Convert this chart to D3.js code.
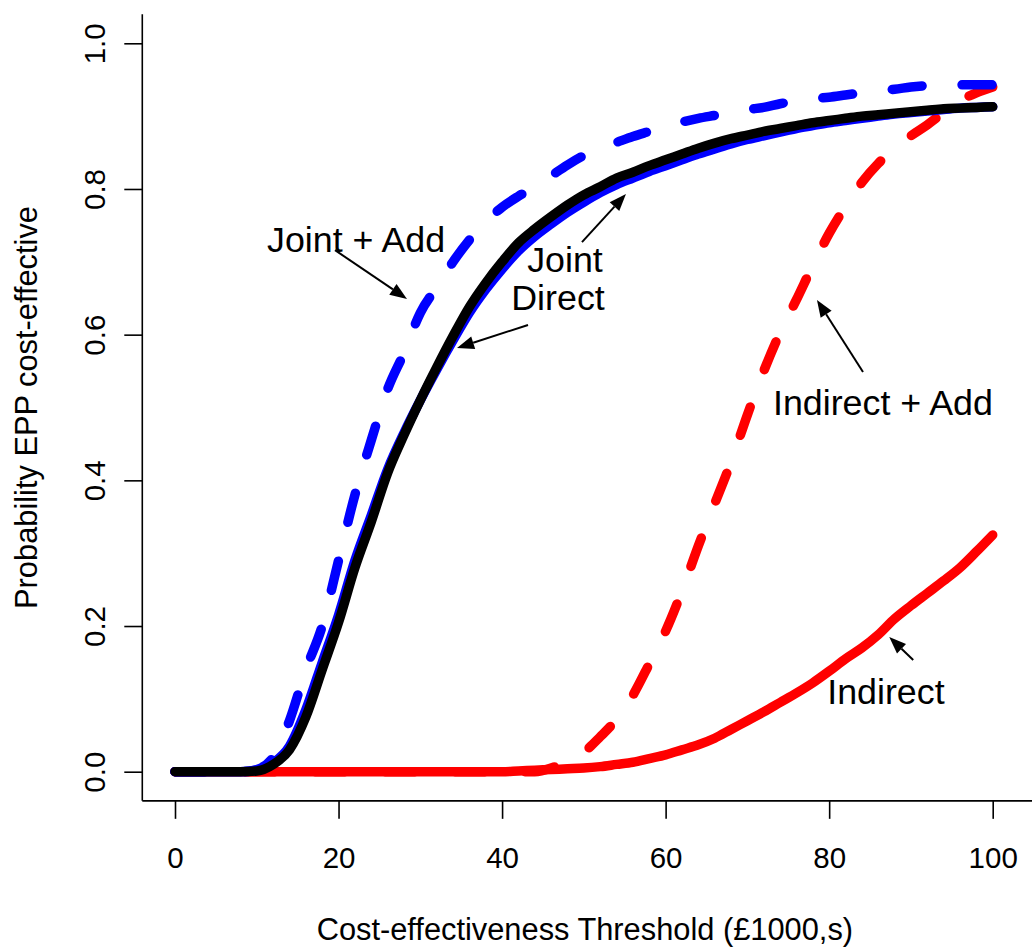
<!DOCTYPE html>
<html>
<head>
<meta charset="utf-8">
<script src="https://cdn.jsdelivr.net/npm/d3@7"></script>
<style>
  html, body { margin: 0; padding: 0; background: #fff; }
  svg { display: block; font-family: "Liberation Sans", Arial, sans-serif; }
</style>
</head>
<body>
<svg id="chart" width="1032" height="950"></svg>
<script>
// ---- data ----
const thresholds = d3.range(0, 101, 2); // £1000s: 0,2,...,100

const jointDirectBlack = [0,0,0,0,0,0.001,0.01,0.03,0.075,0.14,0.205,0.28,0.343,0.41,0.462,0.51,0.555,0.598,0.638,0.671,0.70,0.726,0.745,0.762,0.778,0.792,0.803,0.815,0.823,0.832,0.84,0.848,0.856,0.863,0.869,0.874,0.879,0.883,0.887,0.891,0.894,0.897,0.90,0.902,0.904,0.906,0.908,0.91,0.911,0.912,0.913];

const jointBlue = [0,0,0,0,0,0.002,0.012,0.035,0.085,0.15,0.215,0.29,0.352,0.415,0.465,0.51,0.552,0.592,0.63,0.662,0.69,0.715,0.735,0.752,0.768,0.782,0.795,0.806,0.815,0.824,0.832,0.84,0.848,0.855,0.862,0.868,0.873,0.878,0.883,0.887,0.891,0.894,0.897,0.90,0.903,0.905,0.907,0.909,0.911,0.912,0.913];

const jointAdd = [0,0,0,0,0,0.003,0.02,0.07,0.14,0.2,0.29,0.38,0.455,0.525,0.575,0.63,0.665,0.70,0.73,0.755,0.775,0.79,0.803,0.818,0.833,0.846,0.856,0.864,0.872,0.879,0.886,0.892,0.897,0.901,0.905,0.909,0.912,0.917,0.921,0.924,0.926,0.929,0.932,0.935,0.937,0.94,0.942,0.943,0.943,0.943,0.943];

const indirectAdd = [0,0,0,0,0,0,0,0,0,0,0,0,0,0,0,0,0,0,0,0,0,0,0,0.005,0.015,0.027,0.048,0.072,0.105,0.148,0.193,0.248,0.31,0.368,0.425,0.49,0.55,0.603,0.648,0.695,0.739,0.776,0.809,0.835,0.855,0.873,0.888,0.905,0.921,0.932,0.94];

const indirect = [0,0,0,0,0,0,0,0,0,0,0,0,0,0,0,0,0,0,0,0,0,0.001,0.002,0.003,0.004,0.005,0.007,0.01,0.013,0.018,0.023,0.03,0.037,0.046,0.058,0.07,0.082,0.095,0.108,0.122,0.138,0.155,0.17,0.188,0.21,0.228,0.245,0.262,0.28,0.302,0.325];

const xTicks = [0, 20, 40, 60, 80, 100];
const yTicks = [0, 0.2, 0.4, 0.6, 0.8, 1.0];
const yTickLabels = ["0.0", "0.2", "0.4", "0.6", "0.8", "1.0"];

const xTitle = "Cost-effectiveness Threshold (£1000,s)";
const yTitle = "Probability EPP cost-effective";

// annotation labels (data coordinates)
const labels = [
  {text: "Joint + Add", x: 11.25, y: 0.7135, anchor: "start"},
  {text: "Joint", x: 47.69, y: 0.6861, anchor: "middle"},
  {text: "Direct", x: 46.84, y: 0.6339, anchor: "middle"},
  {text: "Indirect + Add", x: 73.13, y: 0.4897, anchor: "start"},
  {text: "Indirect", x: 79.76, y: 0.0929, anchor: "start"}
];
// arrows: from tail to tip (data coordinates)
const arrows = [
  {x1: 19.57, y1: 0.716, x2: 28.37, y2: 0.649},
  {x1: 49.77, y1: 0.7271, x2: 55.15, y2: 0.7930},
  {x1: 43.17, y1: 0.6133, x2: 34.49, y2: 0.5817},
  {x1: 84.14, y1: 0.5487, x2: 78.51, y2: 0.6476},
  {x1: 90.28, y1: 0.1533, x2: 87.35, y2: 0.1849}
];

// ---- drawing ----
const svg = d3.select("#chart");
const W = 1032, H = 950;

const x = d3.scaleLinear().domain([0, 100]).range([175, 992.7]);
const y = d3.scaleLinear().domain([0, 1]).range([771.7, 43.3]);

const xL = x(-4), yB = y(-0.04), yT = y(1.04);

// frame (L-shaped)
svg.append("line").attr("x1", xL).attr("x2", xL).attr("y1", yT).attr("y2", yB)
  .attr("stroke", "#000").attr("stroke-width", 1.6);
svg.append("line").attr("x1", xL).attr("x2", W).attr("y1", yB).attr("y2", yB)
  .attr("stroke", "#000").attr("stroke-width", 1.6);

// x axis
const gx = svg.append("g").attr("transform", `translate(0,${yB})`)
  .call(d3.axisBottom(x).tickValues(xTicks).tickSize(18).tickFormat(d3.format("d")));
gx.select(".domain").remove();
gx.selectAll(".tick line").attr("stroke", "#000").attr("stroke-width", 1.6);
gx.selectAll(".tick text").attr("y", 67).attr("dy", 0)
  .attr("font-size", 29.5).attr("fill", "#000")
  .attr("font-family", "Liberation Sans, Arial, sans-serif");

// y axis
const gy = svg.append("g").attr("transform", `translate(${xL},0)`)
  .call(d3.axisLeft(y).tickValues(yTicks).tickSize(18).tickFormat((d, i) => yTickLabels[i]));
gy.select(".domain").remove();
gy.selectAll(".tick line").attr("stroke", "#000").attr("stroke-width", 1.6);
gy.selectAll(".tick text").attr("x", 0).attr("y", 0).attr("dy", 0)
  .attr("text-anchor", "middle")
  .attr("transform", "translate(-37,0) rotate(-90)")
  .attr("font-size", 29.5).attr("fill", "#000")
  .attr("font-family", "Liberation Sans, Arial, sans-serif");

// titles
svg.append("text").attr("x", (x(0) + x(100)) / 2 + 1).attr("y", 940)
  .attr("text-anchor", "middle").attr("font-size", 30.8).text(xTitle);
svg.append("text").attr("transform", `translate(37,${(yT + yB) / 2}) rotate(-90)`)
  .attr("text-anchor", "middle").attr("font-size", 30.8).text(yTitle);

// curves
const line = d3.line().x(d => x(d[0])).y(d => y(d[1])).curve(d3.curveMonotoneX);
const series = [
  {vals: indirect, color: "#ff0000", dash: null},
  {vals: indirectAdd, color: "#ff0000", dash: "30 40"},
  {vals: jointBlue, color: "#0000ff", dash: null},
  {vals: jointAdd, color: "#0000ff", dash: "30 40"},
  {vals: jointDirectBlack, color: "#000000", dash: null}
];
series.forEach(s => {
  const pts = thresholds.map((t, i) => [t, s.vals[i]]);
  svg.append("path").attr("d", line(pts))
    .attr("fill", "none").attr("stroke", s.color).attr("stroke-width", 9.5)
    .attr("stroke-linecap", "round").attr("stroke-linejoin", "round")
    .attr("stroke-dasharray", s.dash);
});

// annotations
labels.forEach(l => {
  svg.append("text").attr("x", x(l.x)).attr("y", y(l.y))
    .attr("text-anchor", l.anchor).attr("font-size", 35.8).attr("fill", "#000").text(l.text);
});
arrows.forEach(a => {
  const x1 = x(a.x1), y1 = y(a.y1), x2 = x(a.x2), y2 = y(a.y2);
  const ang = Math.atan2(y2 - y1, x2 - x1);
  const len = 17, hw = 6.5;
  const bx = x2 - len * Math.cos(ang), by = y2 - len * Math.sin(ang);
  svg.append("line").attr("x1", x1).attr("y1", y1).attr("x2", bx).attr("y2", by)
    .attr("stroke", "#000").attr("stroke-width", 2);
  const p = [
    [x2, y2],
    [bx + hw * Math.sin(ang), by - hw * Math.cos(ang)],
    [bx - hw * Math.sin(ang), by + hw * Math.cos(ang)]
  ];
  svg.append("polygon").attr("points", p.map(q => q.join(",")).join(" ")).attr("fill", "#000");
});
</script>
</body>
</html>
